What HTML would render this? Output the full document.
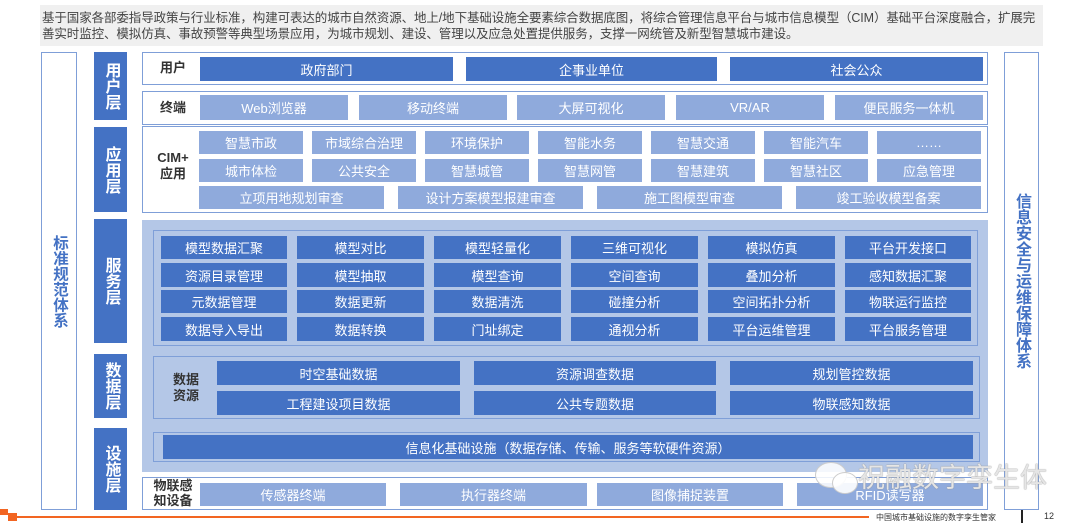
<!DOCTYPE html>
<html><head><meta charset="utf-8"><style>
*{margin:0;padding:0;box-sizing:border-box}
body{width:1080px;height:523px;background:#fff;position:relative;overflow:hidden;font-family:"Liberation Sans","Noto Sans CJK SC",sans-serif}
div{position:absolute}
.c{display:flex;align-items:center;justify-content:center;text-align:center}
.d{background:#4472c4;color:#fff;font-size:13px}
.l{background:#8faadc;color:#fff;font-size:13px}
.ob{border:1.5px solid #7f9fd8;background:#fff}
.lab{background:#4472c4;color:#fff;font-weight:bold;font-size:16px;line-height:18px;width:33px;left:94px}
.vt{writing-mode:vertical-rl;text-orientation:upright;letter-spacing:0}
.bl{color:#333;font-weight:bold;font-size:13px;line-height:16px}
</style></head><body>
<div style="left:40px;top:5px;width:1003px;height:41px;background:#f0f0f0;font-size:12.5px;line-height:16px;color:#444;padding:5px 0 0 2px;letter-spacing:-0.1px">基于国家各部委指导政策与行业标准，构建可表达的城市自然资源、地上/地下基础设施全要素综合数据底图，将综合管理信息平台与城市信息模型（CIM）基础平台深度融合，扩展完善实时监控、模拟仿真、事故预警等典型场景应用，为城市规划、建设、管理以及应急处置提供服务，支撑一网统管及新型智慧城市建设。</div>

<div class="ob c" style="left:41px;top:52px;width:36px;height:458px;color:#4472c4;font-weight:bold;font-size:15.5px"><span class="vt" style="line-height:18px">标准规范体系</span></div>
<div class="ob c" style="left:1004px;top:52px;width:35px;height:458px;color:#4472c4;font-weight:bold;font-size:16px"><span class="vt" style="line-height:19px">信息安全与运维保障体系</span></div>

<div class="lab c" style="top:52px;height:68px"><span class="vt">用户层</span></div>
<div class="lab c" style="top:127px;height:85px"><span class="vt">应用层</span></div>
<div class="lab c" style="top:219px;height:124px"><span class="vt">服务层</span></div>
<div class="lab c" style="top:354px;height:64px"><span class="vt">数据层</span></div>
<div class="lab c" style="top:428px;height:82px"><span class="vt">设施层</span></div>

<!-- user -->
<div class="ob" style="left:142px;top:52px;width:846px;height:33px"></div>
<div class="bl" style="left:160px;top:60px">用户</div>
<div class="d c" style="left:200px;top:57px;width:253px;height:24px">政府部门</div>
<div class="d c" style="left:466px;top:57px;width:251px;height:24px">企事业单位</div>
<div class="d c" style="left:730px;top:57px;width:253px;height:24px">社会公众</div>
<div class="ob" style="left:142px;top:91px;width:846px;height:34px"></div>
<div class="bl" style="left:160px;top:100px">终端</div>
<div class="l c" style="left:200px;top:95px;width:148px;height:25px">Web浏览器</div>
<div class="l c" style="left:359px;top:95px;width:148px;height:25px">移动终端</div>
<div class="l c" style="left:517px;top:95px;width:148px;height:25px">大屏可视化</div>
<div class="l c" style="left:676px;top:95px;width:148px;height:25px">VR/AR</div>
<div class="l c" style="left:835px;top:95px;width:148px;height:25px">便民服务一体机</div>

<!-- app -->
<div class="ob" style="left:142px;top:126px;width:846px;height:87px"></div>
<div class="bl c" style="left:150px;top:150px;width:46px">CIM+<br>应用</div>
<div class="l c" style="left:199px;top:131px;width:104px;height:23px">智慧市政</div>
<div class="l c" style="left:312px;top:131px;width:104px;height:23px">市域综合治理</div>
<div class="l c" style="left:425px;top:131px;width:104px;height:23px">环境保护</div>
<div class="l c" style="left:538px;top:131px;width:104px;height:23px">智能水务</div>
<div class="l c" style="left:651px;top:131px;width:104px;height:23px">智慧交通</div>
<div class="l c" style="left:764px;top:131px;width:104px;height:23px">智能汽车</div>
<div class="l c" style="left:877px;top:131px;width:104px;height:23px">……</div>
<div class="l c" style="left:199px;top:159px;width:104px;height:23px">城市体检</div>
<div class="l c" style="left:312px;top:159px;width:104px;height:23px">公共安全</div>
<div class="l c" style="left:425px;top:159px;width:104px;height:23px">智慧城管</div>
<div class="l c" style="left:538px;top:159px;width:104px;height:23px">智慧网管</div>
<div class="l c" style="left:651px;top:159px;width:104px;height:23px">智慧建筑</div>
<div class="l c" style="left:764px;top:159px;width:104px;height:23px">智慧社区</div>
<div class="l c" style="left:877px;top:159px;width:104px;height:23px">应急管理</div>
<div class="l c" style="left:199px;top:186px;width:185px;height:23px">立项用地规划审查</div>
<div class="l c" style="left:398px;top:186px;width:185px;height:23px">设计方案模型报建审查</div>
<div class="l c" style="left:597px;top:186px;width:185px;height:23px">施工图模型审查</div>
<div class="l c" style="left:796px;top:186px;width:185px;height:23px">竣工验收模型备案</div>

<!-- service bg -->
<div style="left:142px;top:220px;width:846px;height:252px;background:#b4c7e7"></div>
<div style="left:153px;top:230px;width:825px;height:116px;border:1.5px solid #7f9fd8"></div>
<div class="d c" style="left:161px;top:236px;width:126px;height:23px">模型数据汇聚</div>
<div class="d c" style="left:297px;top:236px;width:127px;height:23px">模型对比</div>
<div class="d c" style="left:434px;top:236px;width:127px;height:23px">模型轻量化</div>
<div class="d c" style="left:571px;top:236px;width:127px;height:23px">三维可视化</div>
<div class="d c" style="left:708px;top:236px;width:127px;height:23px">模拟仿真</div>
<div class="d c" style="left:845px;top:236px;width:126px;height:23px">平台开发接口</div>
<div class="d c" style="left:161px;top:263px;width:126px;height:24px">资源目录管理</div>
<div class="d c" style="left:297px;top:263px;width:127px;height:24px">模型抽取</div>
<div class="d c" style="left:434px;top:263px;width:127px;height:24px">模型查询</div>
<div class="d c" style="left:571px;top:263px;width:127px;height:24px">空间查询</div>
<div class="d c" style="left:708px;top:263px;width:127px;height:24px">叠加分析</div>
<div class="d c" style="left:845px;top:263px;width:126px;height:24px">感知数据汇聚</div>
<div class="d c" style="left:161px;top:290px;width:126px;height:23px">元数据管理</div>
<div class="d c" style="left:297px;top:290px;width:127px;height:23px">数据更新</div>
<div class="d c" style="left:434px;top:290px;width:127px;height:23px">数据清洗</div>
<div class="d c" style="left:571px;top:290px;width:127px;height:23px">碰撞分析</div>
<div class="d c" style="left:708px;top:290px;width:127px;height:23px">空间拓扑分析</div>
<div class="d c" style="left:845px;top:290px;width:126px;height:23px">物联运行监控</div>
<div class="d c" style="left:161px;top:317px;width:126px;height:24px">数据导入导出</div>
<div class="d c" style="left:297px;top:317px;width:127px;height:24px">数据转换</div>
<div class="d c" style="left:434px;top:317px;width:127px;height:24px">门址绑定</div>
<div class="d c" style="left:571px;top:317px;width:127px;height:24px">通视分析</div>
<div class="d c" style="left:708px;top:317px;width:127px;height:24px">平台运维管理</div>
<div class="d c" style="left:845px;top:317px;width:126px;height:24px">平台服务管理</div>

<!-- data -->
<div style="left:153px;top:356px;width:827px;height:63px;border:1.5px solid #7f9fd8"></div>
<div class="bl c" style="left:164px;top:372px;width:44px">数据<br>资源</div>
<div class="d c" style="left:217px;top:361px;width:243px;height:24px">时空基础数据</div>
<div class="d c" style="left:474px;top:361px;width:242px;height:24px">资源调查数据</div>
<div class="d c" style="left:730px;top:361px;width:243px;height:24px">规划管控数据</div>
<div class="d c" style="left:217px;top:391px;width:243px;height:24px">工程建设项目数据</div>
<div class="d c" style="left:474px;top:391px;width:242px;height:24px">公共专题数据</div>
<div class="d c" style="left:730px;top:391px;width:243px;height:24px">物联感知数据</div>
<div style="left:153px;top:432px;width:827px;height:30px;border:1.5px solid #7f9fd8"></div>
<div class="d c" style="left:163px;top:435px;width:810px;height:24px">信息化基础设施（数据存储、传输、服务等软硬件资源）</div>

<!-- iot -->
<div class="ob" style="left:142px;top:477px;width:846px;height:33px"></div>
<div class="bl c" style="left:150px;top:478px;width:46px;line-height:15px">物联感<br>知设备</div>
<div class="l c" style="left:200px;top:483px;width:186px;height:23px">传感器终端</div>
<div class="l c" style="left:400px;top:483px;width:187px;height:23px">执行器终端</div>
<div class="l c" style="left:597px;top:483px;width:186px;height:23px">图像捕捉装置</div>
<div class="l c" style="left:797px;top:483px;width:186px;height:23px">RFID读写器</div>

<!-- watermark -->
<div style="left:815px;top:462px;width:32px;height:26px;border-radius:50%;background:rgba(255,255,255,0.85);border:1px solid #ccc"></div>
<div style="left:832px;top:472px;width:26px;height:22px;border-radius:50%;background:rgba(255,255,255,0.9);border:1px solid #ccc"></div>
<div style="left:858px;top:456px;font-size:27px;color:rgba(255,255,255,0.75);text-shadow:0 0 1px #999,0 0 1px #999">祝融数字孪生体</div>

<!-- footer -->
<div style="left:0;top:509px;width:8px;height:6px;background:#f26522"></div>
<div style="left:8px;top:513px;width:9px;height:8px;background:#f26522"></div>
<div style="left:17px;top:516px;width:852px;height:2px;background:#f26522"></div>
<div style="left:876px;top:512px;font-size:8px;color:#333">中国城市基础设施的数字孪生管家</div>
<div style="left:1021px;top:510px;width:2px;height:13px;background:#222"></div>
<div style="left:1044px;top:511px;font-size:9px;color:#333">12</div>
</body></html>
